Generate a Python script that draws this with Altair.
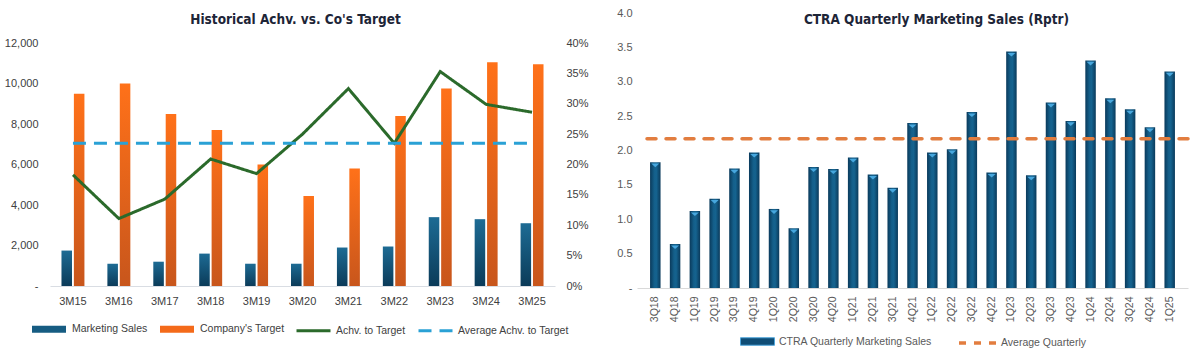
import altair as alt
import pandas as pd

# ---------------- data ----------------
periods = ["3M15", "3M16", "3M17", "3M18", "3M19", "3M20", "3M21", "3M22", "3M23", "3M24", "3M25"]
marketing_sales = [1750, 1100, 1200, 1600, 1100, 1100, 1900, 1950, 3400, 3300, 3100]
company_target = [9500, 10000, 8500, 7700, 6000, 4450, 5800, 8400, 9750, 11050, 10950]
achv_pct = [18.3, 11.1, 14.3, 20.9, 18.5, 25.0, 32.5, 23.5, 35.3, 29.9, 28.6]
avg_achv_pct = 23.5

quarters = ["3Q18", "4Q18", "1Q19", "2Q19", "3Q19", "4Q19", "1Q20", "2Q20", "3Q20", "4Q20",
            "1Q21", "2Q21", "3Q21", "4Q21", "1Q22", "2Q22", "3Q22", "4Q22", "1Q23", "2Q23",
            "3Q23", "4Q23", "1Q24", "2Q24", "3Q24", "4Q24", "1Q25"]
quarterly_sales = [1.83, 0.64, 1.12, 1.30, 1.74, 1.97, 1.15, 0.87, 1.76, 1.73,
                   1.90, 1.65, 1.46, 2.40, 1.97, 2.02, 2.56, 1.68, 3.44, 1.64,
                   2.70, 2.43, 3.31, 2.76, 2.60, 2.34, 3.15]
avg_quarterly = 2.17

left_ticks = [0, 2000, 4000, 6000, 8000, 10000, 12000]
pct_ticks = [0, 0.05, 0.10, 0.15, 0.20, 0.25, 0.30, 0.35, 0.40]
right_ticks = [0, 0.5, 1.0, 1.5, 2.0, 2.5, 3.0, 3.5, 4.0]

bar_series = ["Marketing Sales", "Company's Target"]
line_series = ["Achv. to Target", "Average Achv. to Target"]

# ---------------- styling ----------------
FONT = "Liberation Sans"
TITLE_FONT = "Liberation Sans Narrow, DejaVu Sans Condensed, Liberation Sans, sans-serif"
LEFT_TXT = "#404040"
RIGHT_TXT = "#595959"

PLOT_H = 273          # left plot height (flush-aligned with right plot)
LEFT_W = 505
RIGHT_W = 551
RIGHT_H = 275
left_max = 12000 * PLOT_H / 243
pct_max = 0.40 * PLOT_H / 243


def vgrad(top, bottom):
    return alt.LinearGradient(gradient="linear",
                              stops=[alt.GradientStop(color=top, offset=0),
                                     alt.GradientStop(color=bottom, offset=1)],
                              x1=0, x2=0, y1=0, y2=1)


blue_grad = vgrad("#1d6b94", "#0b3b59")
orange_grad = vgrad("#ff7119", "#c8561c")
cyl_grad = alt.LinearGradient(gradient="linear",
                              stops=[alt.GradientStop(color="#0a3a5b", offset=0),
                                     alt.GradientStop(color="#145f8a", offset=0.4),
                                     alt.GradientStop(color="#15638f", offset=0.6),
                                     alt.GradientStop(color="#0a3a5b", offset=1)],
                              x1=0, x2=1, y1=0, y2=0)

# ---------------- left chart ----------------
bar_df = pd.DataFrame({"period": periods, "sales": marketing_sales, "target": company_target})

x_left = alt.X("period:N", sort=periods,
               scale=alt.Scale(paddingInner=0.5, paddingOuter=0.25),
               axis=alt.Axis(title=None, labelAngle=0, ticks=False, domainColor="#d9dde3",
                             labelFont=FONT, labelFontSize=11, labelColor=LEFT_TXT,
                             labelPadding=9, grid=False))
y_left_scale = alt.Scale(domain=[0, left_max], nice=False, zero=True)
y_left_axis = alt.Axis(title=None, values=left_ticks, domain=False, ticks=False, grid=False,
                       labelExpr="datum.value == 0 ? '-' : format(datum.value, ',')",
                       labelFont=FONT, labelFontSize=11, labelColor=LEFT_TXT, labelPadding=12)
off_scale = alt.Scale(domain=bar_series, paddingInner=0.15)

blue_bars = alt.Chart(bar_df).transform_calculate(s="'Marketing Sales'").mark_bar(
    fill=blue_grad).encode(
    x=x_left,
    xOffset=alt.XOffset("s:N", scale=off_scale),
    y=alt.Y("sales:Q", scale=y_left_scale, axis=y_left_axis),
)
orange_bars = alt.Chart(bar_df).transform_calculate(s="'Company\\'s Target'").mark_bar(
    fill=orange_grad).encode(
    x=x_left,
    xOffset=alt.XOffset("s:N", scale=off_scale),
    y=alt.Y("target:Q", scale=y_left_scale, axis=y_left_axis),
)

bar_legend = alt.Legend(orient="none", legendX=-18, legendY=299, direction="horizontal",
                        title=None, symbolType="M-1,-0.2L1,-0.2L1,0.2L-1,0.2Z",
                        symbolSize=1156, symbolStrokeWidth=0, labelOffset=6,
                        columnPadding=12, labelFont=FONT, labelFontSize=10.5,
                        labelColor=LEFT_TXT)
legend_bars = alt.Chart(bar_df).transform_calculate(ls="'Marketing Sales'").transform_filter(
    "false").mark_bar().encode(
    x=x_left,
    fill=alt.Fill("ls:N", scale=alt.Scale(domain=bar_series, range=["#165c82", "#f46a1a"]),
                  legend=bar_legend),
)

line_df = pd.DataFrame({
    "period": periods + periods,
    "pct": [v / 100 for v in achv_pct] + [avg_achv_pct / 100] * len(periods),
    "series": [line_series[0]] * len(periods) + [line_series[1]] * len(periods),
})
line_legend = alt.Legend(orient="none", legendX=245, legendY=299, direction="horizontal",
                         title=None, symbolType="stroke", symbolSize=1156,
                         symbolStrokeWidth=3, labelOffset=4, columnPadding=6,
                         labelFont=FONT, labelFontSize=10.5, labelColor=LEFT_TXT)
lines = alt.Chart(line_df).mark_line(strokeWidth=3, strokeCap="butt").encode(
    x=x_left,
    y=alt.Y("pct:Q", scale=alt.Scale(domain=[0, pct_max], nice=False),
            axis=alt.Axis(title=None, orient="right", values=pct_ticks, format=".0%",
                          domain=False, ticks=False, grid=False, labelFont=FONT,
                          labelFontSize=11, labelColor=LEFT_TXT, labelPadding=11)),
    stroke=alt.Stroke("series:N", scale=alt.Scale(domain=line_series,
                                                 range=["#2b6a2b", "#2aa1d5"]),
                      legend=line_legend),
    strokeDash=alt.StrokeDash("series:N", scale=alt.Scale(domain=line_series,
                                                         range=[[1, 0], [13, 8]]),
                              legend=line_legend),
    detail="series:N",
)

left = alt.layer(
    alt.layer(legend_bars, blue_bars, orange_bars),
    lines,
).resolve_scale(y="independent").properties(
    width=LEFT_W, height=PLOT_H,
    title=alt.TitleParams("Historical Achv. vs. Co's Target", font=TITLE_FONT, fontSize=13.5,
                          fontWeight="bold", color="#1d2537", anchor="middle", offset=0,
                          dy=13, dx=-7),
)

# ---------------- right chart ----------------
q_df = pd.DataFrame({"quarter": quarters, "value": quarterly_sales})
x_right = alt.X("quarter:N", sort=quarters,
                scale=alt.Scale(paddingInner=0.47, paddingOuter=0.66),
                axis=alt.Axis(title=None, labelAngle=-90, ticks=False, domainColor="#d9d9d9",
                              labelFont=FONT, labelFontSize=10.5, labelColor=RIGHT_TXT,
                              labelPadding=8, grid=False))
y_right_scale = alt.Scale(domain=[0, 4], nice=False)
y_right_axis = alt.Axis(title=None, values=right_ticks, domain=False, ticks=False, grid=False,
                        labelExpr="datum.value == 0 ? '-' : format(datum.value, '.1f')",
                        labelFont=FONT, labelFontSize=11, labelColor=RIGHT_TXT, labelPadding=5)

q_bars = alt.Chart(q_df).mark_bar(fill=cyl_grad).encode(
    x=x_right, y=alt.Y("value:Q", scale=y_right_scale, axis=y_right_axis))
q_caps = alt.Chart(q_df).mark_point(shape="M-1,0.35L1,0.35L0,1.25Z", filled=True,
                                    fill="#47a7de", strokeWidth=0, size=64,
                                    opacity=1).encode(
    x=x_right, y=alt.Y("value:Q", scale=y_right_scale, axis=y_right_axis))

q_bar_legend = alt.Legend(orient="none", legendX=103, legendY=311, direction="horizontal",
                          title=None, symbolType="M-1,-0.22L1,-0.22L1,0.22L-1,0.22Z",
                          symbolSize=1156, symbolStrokeColor="#4ea6dc", symbolStrokeWidth=1,
                          labelOffset=4, labelFont=FONT, labelFontSize=10.5,
                          labelColor=RIGHT_TXT)
q_legend_layer = alt.Chart(q_df).transform_calculate(ls="'CTRA Quarterly Marketing Sales'").transform_filter(
    "false").mark_bar().encode(
    x=x_right,
    fill=alt.Fill("ls:N", scale=alt.Scale(domain=["CTRA Quarterly Marketing Sales"],
                                          range=["#0f4d76"]),
                  legend=q_bar_legend),
)

avg_df = pd.DataFrame({"avg": [avg_quarterly], "series": ["Average Quarterly"]})
avg_legend = alt.Legend(orient="none", legendX=320, legendY=309, direction="horizontal",
                        title=None, symbolType="stroke", symbolSize=1444,
                        symbolStrokeWidth=3.5, symbolDash=[7, 8], labelOffset=2,
                        labelFont=FONT, labelFontSize=10.5, labelColor=RIGHT_TXT)
avg_rule = alt.Chart(avg_df).mark_rule(strokeWidth=3.5, strokeCap="round",
                                       strokeDash=[9, 10]).encode(
    y=alt.Y("avg:Q", scale=y_right_scale, axis=y_right_axis),
    stroke=alt.Stroke("series:N", scale=alt.Scale(domain=["Average Quarterly"],
                                                 range=["#e27d3f"]),
                      legend=avg_legend),
)

right = alt.layer(q_legend_layer, q_bars, q_caps, avg_rule).properties(
    width=RIGHT_W, height=RIGHT_H,
    title=alt.TitleParams("CTRA Quarterly Marketing Sales (Rptr)", font=TITLE_FONT,
                          fontSize=13.5, fontWeight="bold", color="#1d2537",
                          anchor="middle", offset=0, dy=19, dx=24),
)

chart = alt.hconcat(left, right, spacing=82, bounds="flush").resolve_scale(
    fill="independent", stroke="independent", strokeDash="independent",
).configure_view(strokeWidth=0).properties(
    padding={"left": 4, "top": 7, "right": 0, "bottom": 0},
    background="white",
)

chart.save("out.html", embed_options={"renderer": "svg", "actions": False})
